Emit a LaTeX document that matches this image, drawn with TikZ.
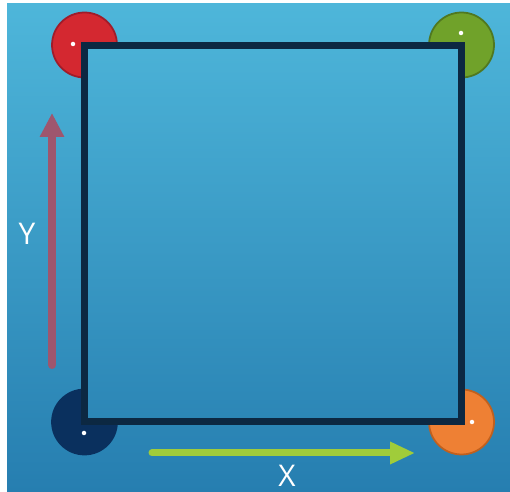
\documentclass[tikz,border=0pt]{standalone}
\usepackage{fontspec}
\setmainfont{Open Sans}
\usetikzlibrary{arrows.meta, positioning}
\definecolor{FondoArriba}{RGB}{78,182,218}
\definecolor{FondoAbajo}{RGB}{38,126,176}
\definecolor{Marco}{RGB}{12,40,66}
\definecolor{Rojo}{RGB}{212,40,48}
\definecolor{RojoBorde}{RGB}{160,28,42}
\definecolor{Verde}{RGB}{112,162,42}
\definecolor{VerdeBorde}{RGB}{80,120,32}
\definecolor{Marino}{RGB}{10,48,94}
\definecolor{Naranja}{RGB}{238,128,52}
\definecolor{NaranjaBorde}{RGB}{192,96,30}
\definecolor{Malva}{RGB}{158,86,110}
\definecolor{Lima}{RGB}{160,204,58}

\begin{document}
\begin{tikzpicture}[
        x=0.02cm, y=-0.02cm,
        corner/.style={
            circle,
            inner sep=0pt,
            minimum size=1.3cm,
            line width=1pt
        },
        pivot/.style={
            circle,
            fill=white,
            inner sep=0pt,
            minimum size=0.09cm
        },
        board/.style={
            rectangle,
            draw=Marco,
            line width=0.14cm,
            top color=FondoArriba!92!FondoAbajo,
            bottom color=FondoAbajo!86!FondoArriba,
            minimum width=7.54cm,
            minimum height=7.54cm
        },
        axis/.style={
            line width=0.16cm,
            line cap=round
        },
        label/.style={
            text=white,
            inner sep=0pt,
            font=\fontsize{17}{20}\selectfont
        }
    ]
        % Background
        \useasboundingbox (0,0) rectangle (510,492);
        \shade[top color=FondoArriba, bottom color=FondoAbajo] (7,4) rectangle (510,492);

        % Corner wheels
        \node[corner, fill=Rojo, draw=RojoBorde] (red) at (84.5,45) {};
        \node[corner, fill=Verde, draw=VerdeBorde] (green) at (461.5,45) {};
        \node[corner, fill=Marino, draw=Marino] (navy) at (84.5,422) {};
        \node[corner, fill=Naranja, draw=NaranjaBorde] (orange) at (461.5,422) {};

        % Main square
        \node[board] (sq) at (273,233.5) {};

        % Pivot points
        \node[pivot] (redp) at (73,44) {};
        \node[pivot] (greenp) at (461,33) {};
        \node[pivot] (navyp) at (84,433) {};
        \node[pivot] (orangep) at (472,422) {};

        % Axes
        \coordinate (y0) at (52,365);
        \coordinate (y1) at (52,113);
        \coordinate (x0) at (152,453);
        \coordinate (x1) at (415,453);
        \draw[axis, draw=Malva, -{Triangle[length=0.48cm, width=0.46cm]}] (y0) -- (y1);
        \draw[axis, draw=Lima, line width=0.14cm, -{Triangle[length=0.5cm, width=0.42cm]}] (x0) -- (x1);
        \node[label] (ylab) at (27,234) {Y};
        \node[label] (xlab) at (287,476) {X};
    \end{tikzpicture}
\end{document}
